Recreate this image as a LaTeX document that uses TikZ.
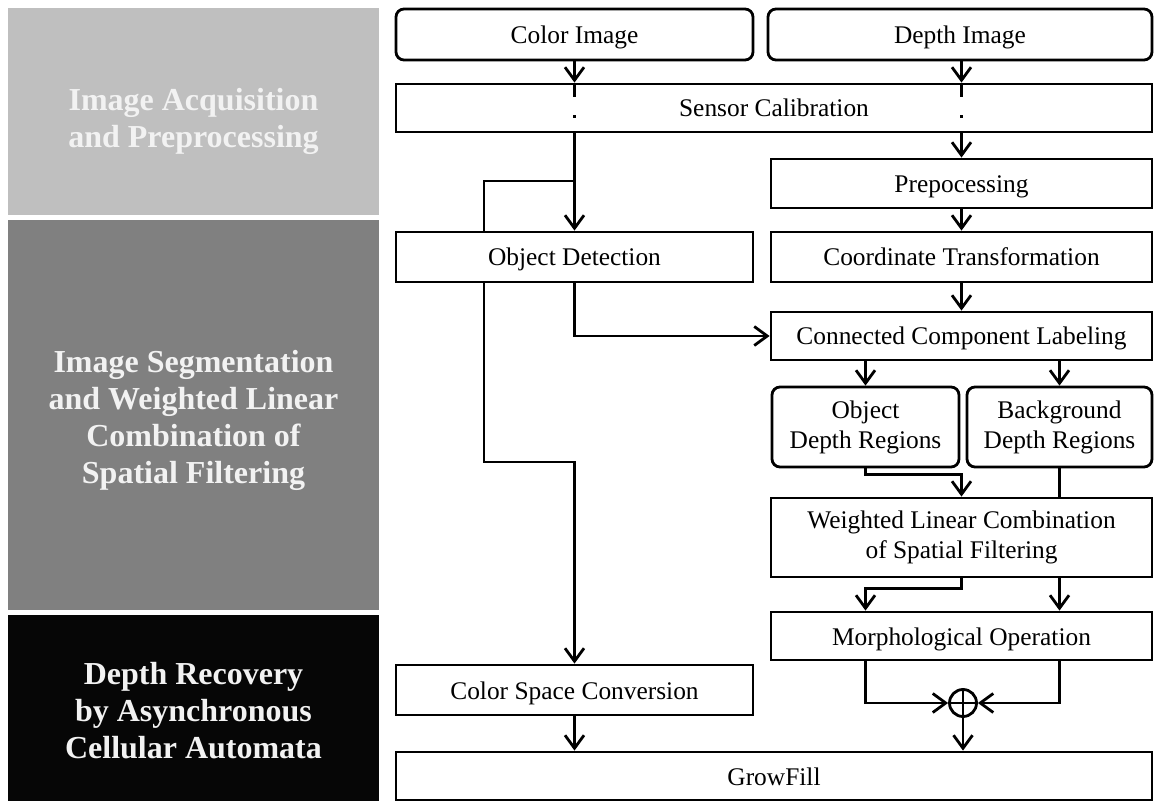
\documentclass[tikz,border=0pt]{standalone}
\usepackage{fontspec}
\setmainfont{Liberation Serif}
\usetikzlibrary{arrows.meta,positioning}
\definecolor{stageA}{HTML}{BFBFBF}
\definecolor{stageB}{HTML}{808080}
\definecolor{stageC}{HTML}{060606}
\definecolor{stagetext}{HTML}{F2F2F2}
\tikzset{
  blk/.style={draw, line width=1.4pt, fill=white, inner sep=0pt, align=center,
    font=\fontsize{12.7}{15}\selectfont},
  one/.style={text height=11pt, text depth=2pt},
  rblk/.style={blk, rounded corners=4pt},
  stage/.style={text=stagetext, align=center,
    font=\bfseries\fontsize{16}{18.5}\selectfont},
  flow/.style={line width=1.4pt},
  arr/.style={flow, -{Straight Barb[length=6.5pt,width=9.5pt]}}
}

\begin{document}
\begin{tikzpicture}[x=0.5pt, y=-0.5pt]
\useasboundingbox (0,0) rectangle (1156,801);

%% stages
\fill[stageA] (8,8) rectangle (379,215);
\fill[stageB] (8,220) rectangle (379,610);
\fill[stageC] (8,615) rectangle (379,801);
\node[stage] (StA) at (193.5,121) {Image Acquisition\\and Preprocessing};
\node[stage] (StB) at (193.5,420) {Image Segmentation\\and Weighted Linear\\Combination of\\Spatial Filtering};
\node[stage] (StC) at (193.5,711) {Depth Recovery\\by Asynchronous\\Cellular Automata};

%% inputs
\node[rblk, one, minimum width=178.5pt, minimum height=25.5pt] (Color) at (574.5,34.5) {Color Image};
\node[rblk, one, minimum width=192pt, minimum height=25.5pt] (Depth) at (960,34.5) {Depth Image};
\node[blk, one, minimum width=378pt, minimum height=24pt] (Calib) at (774,108) {Sensor Calibration};

%% color branch
\node[blk, one, minimum width=178.5pt, minimum height=25pt] (ObjDet) at (574.5,257) {Object Detection};
\node[blk, one, minimum width=178.5pt, minimum height=25pt] (CSC) at (574.5,690) {Color Space Conversion};

%% depth branch
\node[blk, one, minimum width=190.5pt, minimum height=24.5pt] (Prep) at (961.5,183.5) {Prepocessing};
\node[blk, one, minimum width=190.5pt, minimum height=25pt] (CoordTr) at (961.5,257) {Coordinate Transformation};
\node[blk, one, minimum width=190.5pt, minimum height=24pt] (CCL) at (961.5,336) {Connected Component Labeling};
\node[rblk, minimum width=93.5pt, minimum height=40pt] (ObjReg) at (865.5,427) {Object\\Depth Regions};
\node[rblk, minimum width=92.5pt, minimum height=40pt] (BgReg) at (1059.5,427) {Background\\Depth Regions};
\node[blk, minimum width=190.5pt, minimum height=39.5pt] (WLC) at (961.5,537.5) {Weighted Linear Combination\\of Spatial Filtering};
\node[blk, one, minimum width=190.5pt, minimum height=24pt] (Morph) at (961.5,636) {Morphological Operation};
\node[draw, circle, line width=1.4pt, minimum size=13.5pt, inner sep=0pt,
  path picture={\draw[line width=1.4pt]
    (path picture bounding box.north) -- (path picture bounding box.south)
    (path picture bounding box.west) -- (path picture bounding box.east);}]
  (Sum) at (963,703) {};
\node[blk, one, minimum width=378pt, minimum height=24pt] (Grow) at (774,776) {GrowFill};

%% inputs to calibration
\draw[arr] (Color) -- (Calib.north -| Color);
\draw[arr] (Depth.south -| Prep) -- (Calib.north -| Prep);
\draw[flow] (Calib.north -| Color) -- +(0,14);
\draw[flow] (Calib.north -| Prep) -- +(0,14);
\fill (Color.south |- 0,117) +(-1.5,-1.5) rectangle +(1.5,1.5);
\fill (Prep.north |- 0,117) +(-1.5,-1.5) rectangle +(1.5,1.5);

%% color path
\coordinate (Split) at (Color |- 0,181);
\coordinate (SplitL) at (484,181);
\coordinate (DownL) at (484,462);
\draw[flow] (Calib.south -| Color) -- (Split) -- (SplitL) -- (SplitL |- ObjDet.north);
\draw[arr] (Split) -- (ObjDet.north -| Split);
\draw[arr] (DownL |- ObjDet.south) -- (DownL) -- (DownL -| CSC) -- (CSC.north);
\draw[arr] (ObjDet.south) -- (ObjDet.south |- CCL) -- (CCL.west);
\draw[arr] (CSC) -- (Grow.north -| CSC);

%% depth path
\draw[arr] (Calib.south -| Prep) -- (Prep);
\draw[arr] (Prep) -- (CoordTr);
\draw[arr] (CoordTr) -- (CCL);
\draw[arr] (CCL.south -| ObjReg) -- (ObjReg);
\draw[arr] (CCL.south -| BgReg) -- (BgReg);
\draw[arr] (ObjReg.south) -- ++(0,6) -| (WLC.north);
\draw[flow] (BgReg.south) -- (BgReg.south |- WLC.north);
\draw[arr] (WLC.south) -- ++(0,10) -| (Morph.north -| ObjReg);
\draw[arr] (WLC.south -| BgReg) -- (Morph.north -| BgReg);
\draw[arr] (Morph.south -| ObjReg) |- (Sum.west);
\draw[arr] (Morph.south -| BgReg) |- (Sum.east);
\draw[arr] (Sum) -- (Grow.north -| Sum);

\end{tikzpicture}
\end{document}
